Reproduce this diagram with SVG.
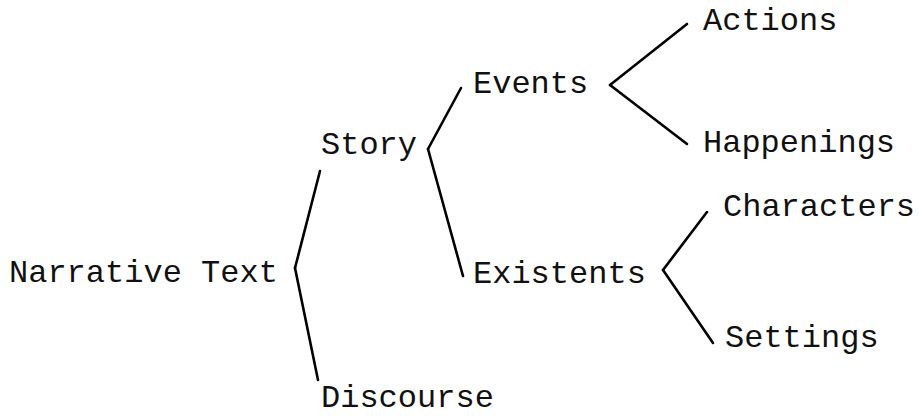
<svg xmlns="http://www.w3.org/2000/svg" width="919" height="418" viewBox="0 0 919 418">
<style>
text{font-family:"Liberation Mono","Courier New",monospace;font-size:32px;fill:#111}
.c line{stroke:#000;stroke-width:2.6;stroke-linecap:round}
</style>
<rect width="919" height="418" fill="#fff"/>
<g id="n-narrative"><text x="9" y="282">Narrative Text</text></g>
<g id="n-story"><text x="321" y="154">Story</text></g>
<g id="n-discourse"><text x="321" y="407">Discourse</text></g>
<g id="n-events"><text x="473" y="93">Events</text></g>
<g id="n-existents"><text x="473" y="283">Existents</text></g>
<g id="n-actions"><text x="703" y="30">Actions</text></g>
<g id="n-happenings"><text x="703" y="152">Happenings</text></g>
<g id="n-characters"><text x="723" y="216">Characters</text></g>
<g id="n-settings"><text x="725" y="347">Settings</text></g>
<g class="c" id="connectors">
<line x1="295" y1="268" x2="320" y2="171"/>
<line x1="295" y1="268" x2="318" y2="380"/>
<line x1="428" y1="149" x2="461" y2="88"/>
<line x1="428" y1="149" x2="463" y2="276"/>
<line x1="610" y1="85" x2="687" y2="24"/>
<line x1="610" y1="85" x2="687" y2="144"/>
<line x1="663" y1="270" x2="707" y2="212"/>
<line x1="663" y1="270" x2="713" y2="343"/>
</g>
</svg>
